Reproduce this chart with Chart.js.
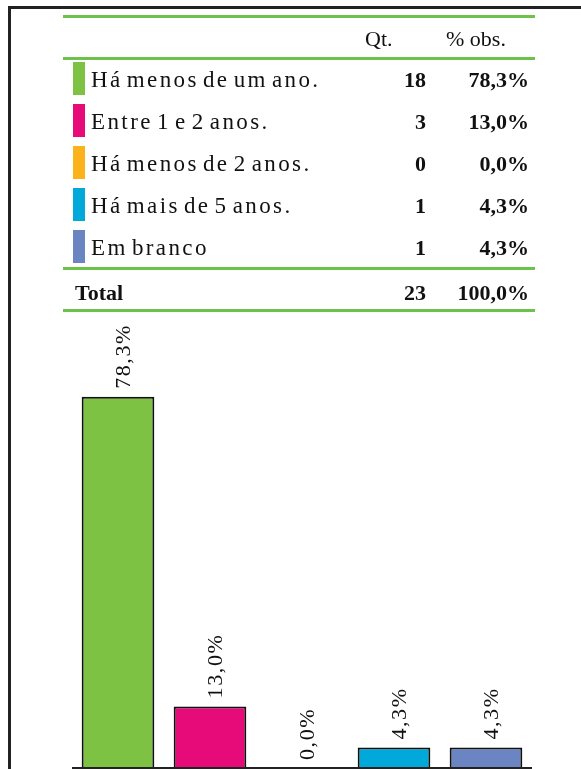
<!DOCTYPE html>
<html>
<head>
<meta charset="utf-8">
<script src="https://cdn.jsdelivr.net/npm/chart.js@4.4.0/dist/chart.umd.min.js"></script>
<style>
  html, body { margin:0; padding:0; background:#fff; }
  body { width:581px; height:769px; position:relative; overflow:hidden; font-family:"Liberation Serif","Times New Roman",serif; }
  #frame { position:absolute; left:8px; top:6px; width:600px; height:800px; border-left:3px solid #222; border-top:3px solid #222; box-sizing:border-box; }
  #chartWrap { position:absolute; left:0; top:0; width:581px; height:769px; }
  .gline { position:absolute; left:63px; width:472px; height:3px; background:#6cc24a; }
  .t { position:absolute; font-size:22px; color:#111; white-space:nowrap; line-height:1; }
  .lab { font-size:23px; letter-spacing:2.4px; word-spacing:-4px; }
  .num { font-weight:bold; text-align:right; }
  .sw { position:absolute; left:73px; width:12px; height:33px; }
</style>
</head>
<body>
<div id="frame"></div>
<div id="chartWrap"><canvas id="c" width="581" height="769"></canvas></div>
<div id="table"></div>
<script>
const categories = ['Há menos de um ano.', 'Entre 1 e 2 anos.', 'Há menos de 2 anos.', 'Há mais de 5 anos.', 'Em branco'];
const counts = [18, 3, 0, 1, 1];
const percents = [78.3, 13.0, 0.0, 4.3, 4.3];
const percentLabels = ['78,3%', '13,0%', '0,0%', '4,3%', '4,3%'];
const totalCount = 23;
const totalLabel = '100,0%';
const headers = ['Qt.', '% obs.'];
const colors = ['#7dc242', '#e60b78', '#fbb21b', '#00a9d9', '#6b84c2'];

// ---- table (HTML text) ----
const tbl = document.getElementById('table');
function add(html){ tbl.insertAdjacentHTML('beforeend', html); }
[15, 57, 267, 309].forEach(y => add(`<div class="gline" style="top:${y}px"></div>`));
add(`<div class="t" style="left:365px;top:28px">${headers[0]}</div>`);
add(`<div class="t" style="left:446px;top:28px">${headers[1]}</div>`);
const rowTop = [62, 104, 146, 188, 230];
categories.forEach((cat, i) => {
  const y = rowTop[i];
  add(`<div class="sw" style="top:${y}px;background:${colors[i]}"></div>`);
  add(`<div class="t lab" style="left:91px;top:${y+6}px">${cat}</div>`);
  add(`<div class="t num" style="left:385px;width:41px;top:${y+7}px">${counts[i]}</div>`);
  add(`<div class="t num" style="left:438px;width:91px;top:${y+7}px">${percentLabels[i]}</div>`);
});
add(`<div class="t num" style="left:75px;top:282px;text-align:left">Total</div>`);
add(`<div class="t num" style="left:385px;width:41px;top:282px">${totalCount}</div>`);
add(`<div class="t num" style="left:428px;width:101px;top:282px">${totalLabel}</div>`);

// ---- chart ----
const labelPlugin = {
  id: 'valLabels',
  afterDatasetsDraw(chart) {
    const ctx = chart.ctx;
    const meta = chart.getDatasetMeta(0);
    ctx.save();
    ctx.font = '22px "Liberation Serif", serif';
    ctx.fillStyle = '#111';
    try { ctx.letterSpacing = '1.6px'; } catch(e) {}
    ctx.textAlign = 'left';
    ctx.textBaseline = 'alphabetic';
    meta.data.forEach((bar, i) => {
      ctx.save();
      ctx.translate(bar.x + 12, bar.y - 8);
      ctx.rotate(-Math.PI / 2);
      ctx.fillText(percentLabels[i], 0, 0);
      ctx.restore();
    });
    // baseline
    const y0 = chart.scales.y.getPixelForValue(0);
    ctx.strokeStyle = '#222';
    ctx.lineWidth = 2;
    ctx.beginPath();
    ctx.moveTo(chart.chartArea.left, y0);
    ctx.lineTo(chart.chartArea.right, y0);
    ctx.stroke();
    ctx.restore();
  }
};

new Chart(document.getElementById('c'), {
  type: 'bar',
  data: {
    labels: categories,
    datasets: [{
      data: percents,
      backgroundColor: colors,
      borderColor: '#111',
      borderWidth: 2,
      borderSkipped: 'bottom',
      categoryPercentage: 1,
      barPercentage: 0.79
    }]
  },
  options: {
    responsive: false,
    animation: false,
    devicePixelRatio: 1,
    layout: { padding: { left: 72, right: 49, top: 294, bottom: 1 } },
    plugins: { legend: { display: false }, tooltip: { enabled: false } },
    scales: {
      x: { display: false },
      y: { display: false, min: 0, max: 100 }
    }
  },
  plugins: [labelPlugin]
});
</script>
</body>
</html>
